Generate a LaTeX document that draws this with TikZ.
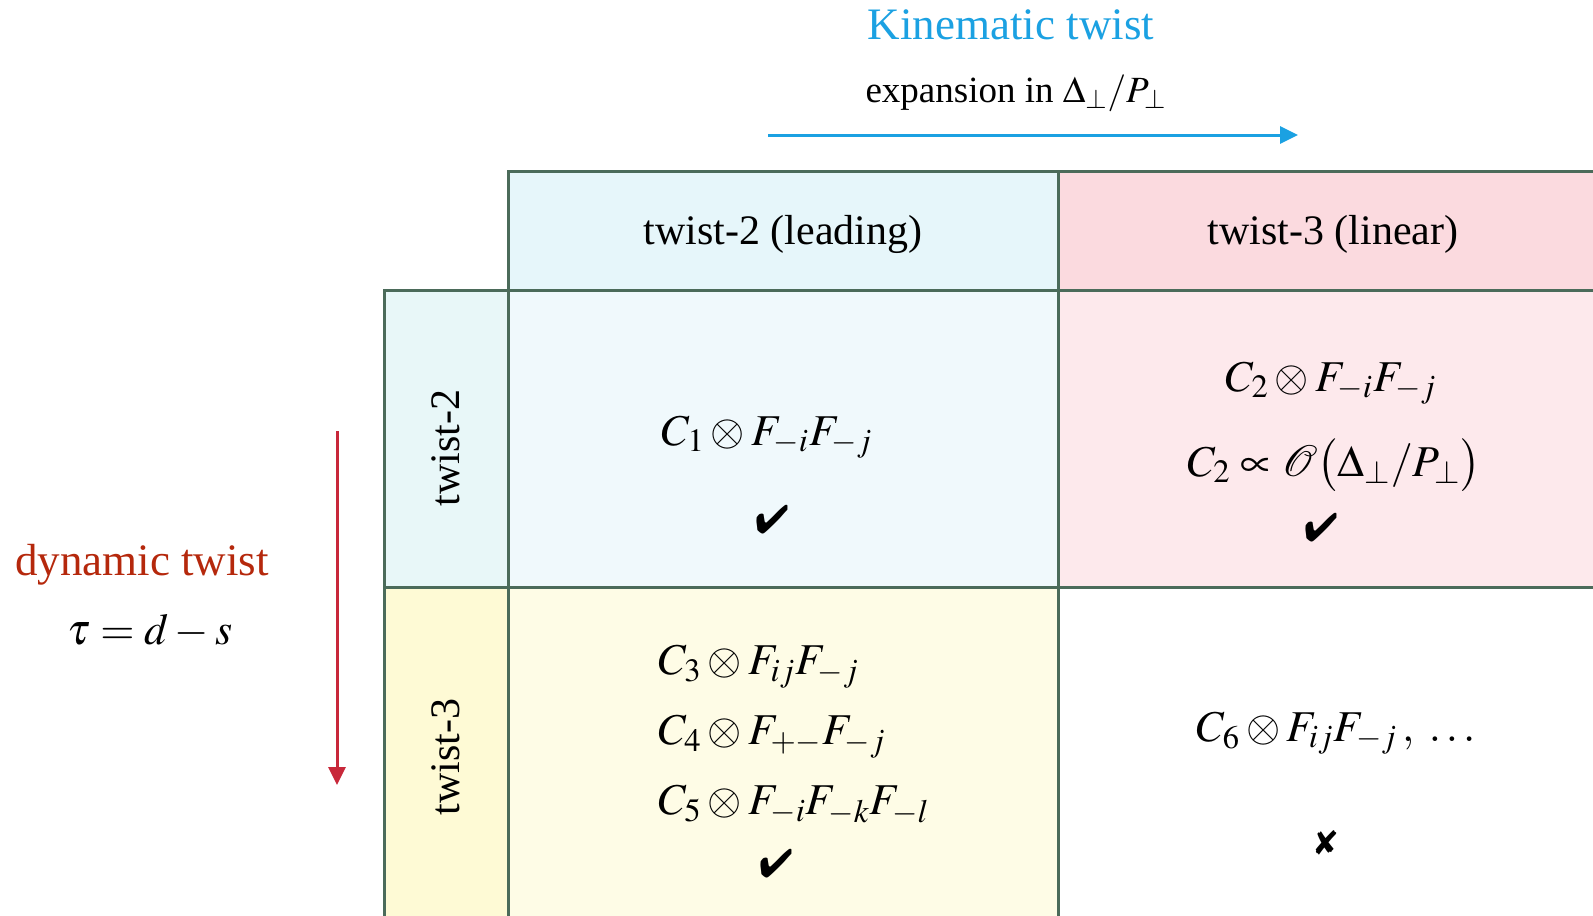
\documentclass[tikz,border=0pt]{standalone}
\usepackage{mathptmx}
\usepackage[no-math]{fontspec}
\setmainfont{Liberation Serif}
\usepackage{pifont}
\usetikzlibrary{arrows.meta, positioning}
\definecolor{tgreen}{HTML}{4B6B5A}
\definecolor{kblue}{HTML}{1BA1E2}
\definecolor{drust}{HTML}{B5280C}
\definecolor{dred}{HTML}{C8283A}
\definecolor{hcyan}{HTML}{E6F6FA}
\definecolor{rcyan}{HTML}{E8F7F8}
\definecolor{bcyan}{HTML}{F0F9FC}
\definecolor{hpink}{HTML}{FBDADF}
\definecolor{bpink}{HTML}{FDE9EC}
\definecolor{ryellow}{HTML}{FEFAD5}
\definecolor{byellow}{HTML}{FEFCE6}
\tikzset{
  cell/.style={draw=tgreen, fill=#1, line width=1.5pt, anchor=north west, inner sep=0pt, outer sep=0pt,
    font=\fontsize{21}{25}\selectfont, text height=18.5pt, text depth=4.6pt},
  cell/.default=white,
  rowlab/.style={rotate=90, font=\fontsize{21}{25}\selectfont, inner sep=1pt},
  frm/.style={font=\fontsize{22}{26}\selectfont, inner sep=1pt},
  tick/.style={font=\fontsize{20}{24}\selectfont, inner sep=0pt},
  heading/.style={font=\fontsize{22.5}{27}\selectfont, inner sep=1pt},
  axarrow/.style={-{Triangle[length=9pt, width=8.5pt]}, draw=#1, line width=1.5pt},
}

\begin{document}
\begin{tikzpicture}[x=0.5pt, y=-0.5pt]
  \clip (0,0) rectangle (1593,915);
  % ---------- kinematic axis
  \node[heading, text=kblue] (kin) at (1011,25) {Kinematic twist};
  \node[font=\fontsize{18.5}{22}\selectfont, inner sep=1pt] (kexp) at (1016,93) {expansion in $\Delta_\perp/P_\perp$};
  \coordinate (ka) at (768,135);
  \coordinate (kb) at (1298,135);
  \draw[axarrow=kblue] (ka) -- (kb);
  % ---------- dynamic axis
  \node[heading, text=drust] (dyn) at (142,565) {dynamic twist};
  \node[frm] (dtau) at (150,631) {$\tau = d - s$};
  \coordinate (da) at (337,431);
  \coordinate (db) at (337,785);
  \draw[axarrow=dred] (da) -- (db);
  % ---------- column headers
  \node[cell=hcyan, minimum width=275pt, minimum height=59.5pt] (hlead) at (508,171) {twist-2 (leading)};
  \node[cell=hpink, minimum width=275pt, minimum height=59.5pt] (hlin) at (1058,171) {twist-3 (linear)};
  % ---------- row headers
  \node[cell=rcyan, minimum width=62pt, minimum height=148.5pt] (rtwo) at (384,290) {};
  \node[cell=ryellow, minimum width=62pt, minimum height=170pt] (rthree) at (384,587) {};
  \node[rowlab] (ltwo) at (446,448) {twist-2};
  \node[rowlab] (lthree) at (446,757) {twist-3};
  % ---------- body
  \node[cell=bcyan, minimum width=275pt, minimum height=148.5pt] (c11) at (508,290) {};
  \node[cell=bpink, minimum width=275pt, minimum height=148.5pt] (c12) at (1058,290) {};
  \node[cell=byellow, minimum width=275pt, minimum height=170pt] (c21) at (508,587) {};
  \node[cell, minimum width=275pt, minimum height=170pt] (c22) at (1058,587) {};
  % leading twist-2
  \node[frm] (f11) at (767,437) {$C_1 \otimes F_{-i}F_{-j}$};
  \node[tick] (k11) at (772,520) {\ding{52}};
  % linear twist-3 over twist-2
  \node[frm] (f12a) at (1331,383) {$C_2 \otimes F_{-i}F_{-j}$};
  \node[frm] (f12b) at (1334,465) {$C_2 \propto \mathcal{O}\bigl(\Delta_\perp/P_\perp\bigr)$};
  \node[tick] (k12) at (1321,528) {\ding{52}};
  % dynamic twist-3
  \node[frm, anchor=west, align=left, font=\fontsize{22}{35}\selectfont] (f21) at (656,735)
    {$C_3 \otimes F_{ij}F_{-j}$\\ $C_4 \otimes F_{+-}F_{-j}$\\ $C_5 \otimes F_{-i}F_{-k}F_{-l}$};
  \node[tick] (k21) at (776,864) {\ding{52}};
  % both twist-3
  \node[frm] (f22) at (1336,733) {$C_6 \otimes F_{ij}F_{-j}\,,\;\ldots$};
  \node[tick, font=\fontsize{17}{20}\selectfont] (k22) at (1326,843) {\ding{56}};
\end{tikzpicture}
\end{document}
